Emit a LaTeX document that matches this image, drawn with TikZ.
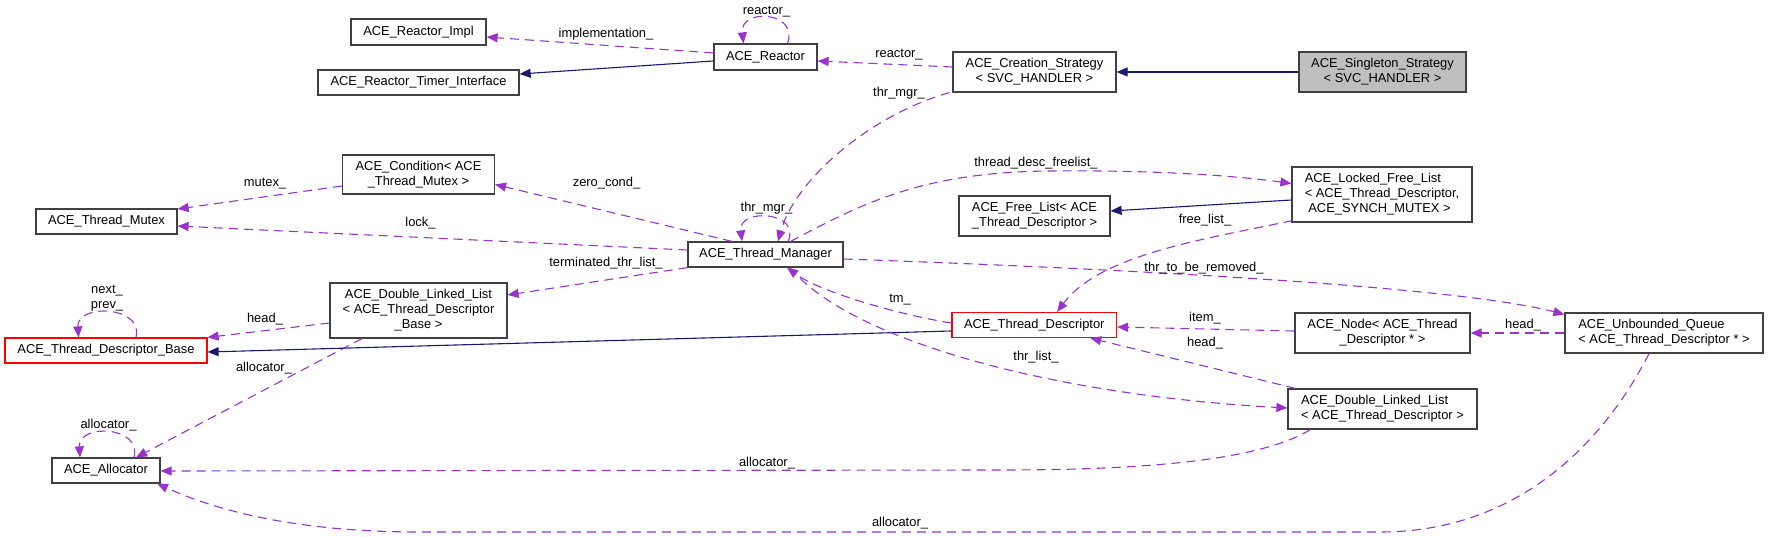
\documentclass[tikz,border=0pt]{standalone}
\usepackage{fontspec}
\setmainfont{Liberation Sans}
\usetikzlibrary{arrows.meta,calc}
\definecolor{depc}{HTML}{9A32CD}
\definecolor{inhc}{HTML}{191970}
\definecolor{bord}{HTML}{404040}
\definecolor{greyfill}{HTML}{BFBFBF}
\begin{document}
\begin{tikzpicture}[x=1pt,y=-1pt,font=\fontsize{12.9}{15}\selectfont]
\tikzset{
  cls/.style={draw=bord,line width=1.2pt,fill=white,inner sep=0pt,align=center,text=black},
  clsl/.style={cls,align=left},
  clsred/.style={cls,draw=red},
  clsgrey/.style={cls,fill=greyfill},
  dep/.style={draw=depc,line width=1.1pt,dash pattern=on 9pt off 6pt,-{Triangle[length=11pt,width=9pt]}},
  inh/.style={draw=inhc,line width=1.1pt,-{Triangle[length=11pt,width=9pt]}},
  lbl/.style={inner sep=0pt,text=black,align=center}
}
\useasboundingbox (0,0) rectangle (1768,537);
% classes
\node[cls,minimum width=135pt,minimum height=26pt] (impl) at (418.5,32) {ACE\_Reactor\_Impl};
\node[cls,minimum width=201pt,minimum height=25pt] (timer) at (418.5,82.5) {ACE\_Reactor\_Timer\_Interface};
\node[cls,minimum width=103pt,minimum height=26pt] (reactor) at (765.5,57) {ACE\_Reactor};
\node[cls,minimum width=163pt,minimum height=40pt] (creation) at (1034.5,72) {ACE\_Creation\_Strategy\\< SVC\_HANDLER >};
\node[clsgrey,minimum width=167pt,minimum height=40pt] (singleton) at (1382.5,72) {ACE\_Singleton\_Strategy\\< SVC\_HANDLER >};
\node[cls,minimum width=152pt,minimum height=39pt] (cond) at (418.5,174.5) {ACE\_Condition< ACE\\\_Thread\_Mutex >};
\node[cls,minimum width=141pt,minimum height=25pt] (mutex) at (106.5,221.5) {ACE\_Thread\_Mutex};
\node[cls,minimum width=155pt,minimum height=25pt] (tm) at (765.5,254.5) {ACE\_Thread\_Manager};
\node[cls,minimum width=151pt,minimum height=40pt] (freelist) at (1034.5,216) {ACE\_Free\_List< ACE\\\_Thread\_Descriptor >};
\node[clsl,minimum width=180pt,minimum height=55pt] (locked) at (1382,194.5) {ACE\_Locked\_Free\_List\\< ACE\_Thread\_Descriptor,\\\hphantom{ }ACE\_SYNCH\_MUTEX >};
\node[cls,minimum width=177pt,minimum height=55pt] (dllbase) at (418.5,310.5) {ACE\_Double\_Linked\_List\\< ACE\_Thread\_Descriptor\\\_Base >};
\node[clsred,minimum width=202pt,minimum height=25pt] (tdbase) at (106,350.5) {ACE\_Thread\_Descriptor\_Base};
\node[clsred,minimum width=164.5pt,minimum height=25pt] (td) at (1034.25,325) {ACE\_Thread\_Descriptor};
\node[cls,minimum width=175pt,minimum height=40pt] (node) at (1382.5,333) {ACE\_Node< ACE\_Thread\\\_Descriptor * >};
\node[clsl,minimum width=198pt,minimum height=40pt] (uq) at (1664,333) {ACE\_Unbounded\_Queue\\< ACE\_Thread\_Descriptor * >};
\node[clsl,minimum width=189pt,minimum height=40pt] (dlltd) at (1382.5,409) {ACE\_Double\_Linked\_List\\< ACE\_Thread\_Descriptor >};
\node[cls,minimum width=108pt,minimum height=25pt] (alloc) at (106,470.5) {ACE\_Allocator};
% connectors
\draw[dep] ($(reactor.west)+(0,-4)$) -- ($(impl.east)+(0,5)$);
\draw[inh] ($(reactor.west)+(0,4)$) -- ($(timer.east)+(0,-8.5)$);
\draw[dep] ($(reactor.north)+(22,0)$) .. controls +(12,-32) and +(-4,-36) .. ($(reactor.north)+(-22,0)$);
\draw[dep] ($(creation.west)+(0,-5)$) -- ($(reactor.east)+(0,4)$);
\draw[inh] (singleton.west) -- (creation.east);
\draw[dep] ($(creation.south west)+(-3,0)$) .. controls (870,115) and (795,180) .. ($(tm.north)+(12.5,0)$);
\draw[dep] ($(tm.north)+(22.5,0)$) .. controls +(14,-30) and +(-4,-34) .. ($(tm.north)+(-23.5,0)$);
\draw[dep] ($(tm.north)+(-33.5,0)$) -- ($(cond.east)+(0,10)$);
\draw[dep] ($(cond.west)+(0,11.5)$) -- ($(mutex.east)+(0,-12.5)$);
\draw[dep] ($(tm.west)+(0,-4.5)$) -- ($(mutex.east)+(0,4.5)$);
\draw[dep] ($(tm.north)+(25,0)$) .. controls (860,205) and (920,172) .. (1050,171) .. controls (1150,170) and (1230,175) .. ($(locked.west)+(0,-11)$);
\draw[dep] (tm.south west) -- ($(dllbase.east)+(0,-15.5)$);
\draw[dep] ($(tm.east)+(0,4.5)$) .. controls (1100,268) and (1450,285) .. ($(uq.north west)+(0,2)$);
\draw[inh] ($(locked.west)+(0,5.5)$) -- ($(freelist.east)+(0,-5)$);
\draw[dep] ($(locked.south west)+(1,-2)$) .. controls (1200,240) and (1100,255) .. ($(td.north)+(22.75,0)$);
\draw[dep] ($(tdbase.north)+(30,0)$) .. controls +(8,-32) and +(-2,-34) .. ($(tdbase.north)+(-27.5,0)$);
\draw[dep] ($(dllbase.west)+(0,12.5)$) -- (tdbase.north east);
\draw[dep] ($(dllbase.south)+(-56.5,0)$) -- ($(alloc.north)+(30,0)$);
\draw[dep] ($(alloc.north)+(28,0)$) .. controls +(8,-32) and +(-2,-34) .. ($(alloc.north)+(-26,0)$);
\draw[inh] ($(td.west)+(0,6)$) -- ($(tdbase.east)+(0,1.5)$);
\draw[dep] ($(td.west)+(0,-2)$) .. controls (900,315) and (820,292) .. ($(tm.south)+(21.5,0)$);
\draw[dep] ($(tm.south)+(24.5,0)$) .. controls (850,340) and (1050,395) .. ($(dlltd.west)+(0,-1)$);
\draw[dep] ($(node.west)+(0,-2)$) -- ($(td.east)+(0,2)$);
\draw[dep] ($(dlltd.north west)+(8,0)$) -- ($(td.south)+(56,0)$);
\draw[dep] (uq.west) -- (node.east);
\draw[dep] ($(dlltd.south west)+(23,0)$) .. controls (1260,460) and (1150,470) .. (1000,470) -- ($(alloc.east)+(0,0.5)$);
\draw[dep] ($(uq.south)+(-15,0)$) .. controls (1605,440) and (1520,532) .. (1380,532) -- (420,532) .. controls (300,532) and (220,512) .. ($(alloc.south)+(51,0)$);
% labels
\node[lbl] (l1) at (606,34) {implementation\_};
\node[lbl] (l2) at (766.5,12) {reactor\_};
\node[lbl] (l3) at (899,55) {reactor\_};
\node[lbl] (l4) at (899,93) {thr\_mgr\_};
\node[lbl] (l5) at (766.5,208) {thr\_mgr\_};
\node[lbl] (l6) at (606.5,183) {zero\_cond\_};
\node[lbl] (l7) at (265,184) {mutex\_};
\node[lbl] (l8) at (420.5,223) {lock\_};
\node[lbl] (l9) at (1036,163) {thread\_desc\_freelist\_};
\node[lbl] (l10) at (606,263) {terminated\_thr\_list\_};
\node[lbl] (l11) at (1204,268) {thr\_to\_be\_removed\_};
\node[lbl] (l12) at (1205,220) {free\_list\_};
\node[lbl] (l13) at (107,298) {next\_\\prev\_};
\node[lbl] (l14) at (265,319) {head\_};
\node[lbl] (l15) at (264,368) {allocator\_};
\node[lbl] (l16) at (108.5,425) {allocator\_};
\node[lbl] (l17) at (900,300) {tm\_};
\node[lbl] (l18) at (1036,357) {thr\_list\_};
\node[lbl] (l19) at (1205,318) {item\_};
\node[lbl] (l20) at (1205,343) {head\_};
\node[lbl] (l21) at (1523,325) {head\_};
\node[lbl] (l22) at (767,463) {allocator\_};
\node[lbl] (l23) at (900,523) {allocator\_};
\end{tikzpicture}
\end{document}
